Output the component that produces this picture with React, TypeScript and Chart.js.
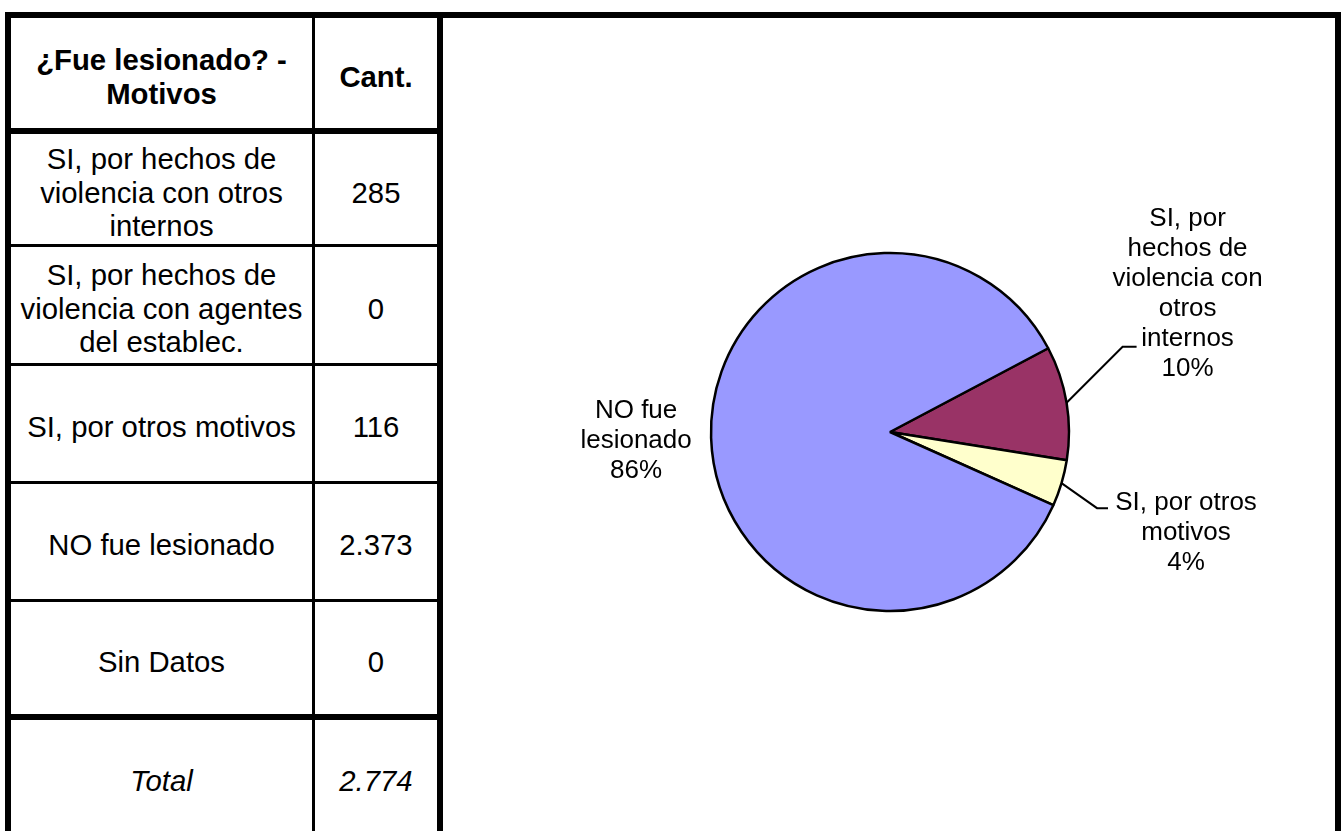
import React, { useEffect, useRef } from "react";
import { Chart, registerables } from "chart.js";

Chart.register(...registerables);

// ---------- data ----------
const categories = [
  "SI, por hechos de violencia con otros internos",
  "SI, por hechos de violencia con agentes del establec.",
  "SI, por otros motivos",
  "NO fue lesionado",
  "Sin Datos",
];
const counts = [285, 0, 116, 2373, 0];
const tableLines = [
  ["SI, por hechos de", "violencia con otros", "internos"],
  ["SI, por hechos de", "violencia con agentes", "del establec."],
  ["SI, por otros motivos"],
  ["NO fue lesionado"],
  ["Sin Datos"],
];
const headerLines = ["¿Fue lesionado? -", "Motivos"];
const countHeader = "Cant.";
const totalLabel = "Total";
const pieLabelLines = [
  ["SI, por", "hechos de", "violencia con", "otros", "internos"],
  [],
  ["SI, por otros", "motivos"],
  ["NO fue", "lesionado"],
  [],
];
const sliceColors = ["#993366", "#CCFFFF", "#FFFFCC", "#9999FF", "#660066"];

// ---------- styles / layout ----------
const FONT = "'Liberation Sans', Arial, Helvetica, sans-serif";
const labelPlacement: Record<number, { dx: number; dy: number; leader?: number[][] }> = {
  0: { dx: 121, dy: -109, leader: [[56, -56], [70, -56]] },
  2: { dx: 124.5, dy: 50, leader: [[35.5, 25], [46.5, 25]] },
  3: { dx: -75, dy: 3 },
};

const total = counts.reduce((a, b) => a + b, 0);
const fmt = (n: number) => n.toString().replace(/\B(?=(\d{3})+(?!\d))/g, ".");

const pieLabelsPlugin = {
  id: "pieLabels",
  afterDatasetsDraw(chart: any) {
    const ctx = chart.ctx;
    const meta = chart.getDatasetMeta(0);
    const data = chart.data.datasets[0].data as number[];
    const sum = data.reduce((a, b) => a + b, 0);
    ctx.save();
    ctx.fillStyle = "#000";
    ctx.strokeStyle = "#000";
    ctx.font = `26px ${FONT}`;
    ctx.textAlign = "center";
    ctx.textBaseline = "middle";
    meta.data.forEach((arc: any, i: number) => {
      const place = labelPlacement[i];
      if (!place || data[i] === 0) return;
      const p = arc.getProps(["x", "y", "startAngle", "endAngle", "outerRadius"], true);
      const mid = (p.startAngle + p.endAngle) / 2;
      const ex = p.x + Math.cos(mid) * p.outerRadius;
      const ey = p.y + Math.sin(mid) * p.outerRadius;
      if (place.leader) {
        ctx.lineWidth = 2;
        ctx.beginPath();
        ctx.moveTo(ex, ey);
        place.leader.forEach(([lx, ly]) => ctx.lineTo(ex + lx, ey + ly));
        ctx.stroke();
      }
      const lines = [...pieLabelLines[i], `${Math.round((data[i] / sum) * 100)}%`];
      const lh = 30;
      const cx = ex + place.dx;
      const cy = ey + place.dy;
      lines.forEach((t, k) => {
        ctx.fillText(t, cx, cy + (k - (lines.length - 1) / 2) * lh);
      });
    });
    ctx.restore();
  },
};

function PieChart() {
  const ref = useRef<HTMLCanvasElement | null>(null);
  useEffect(() => {
    if (!ref.current) return;
    const chart = new Chart(ref.current, {
      type: "pie",
      data: {
        labels: categories,
        datasets: [
          {
            data: counts,
            backgroundColor: sliceColors,
            borderColor: "#000",
            borderWidth: 2.5,
          },
        ],
      },
      options: {
        animation: false,
        responsive: true,
        maintainAspectRatio: false,
        rotation: 62.1,
        radius: 179,
        layout: { padding: { left: 2, top: 15, right: 0, bottom: 0 } },
        plugins: {
          legend: { display: false },
          tooltip: { enabled: false },
          title: { display: false },
        },
      } as any,
      plugins: [pieLabelsPlugin],
    });
    return () => chart.destroy();
  }, []);
  return <canvas ref={ref} />;
}

const line = (left: number, top: number, width: number, height: number, key: string) => (
  <div key={key} style={{ position: "absolute", left, top, width, height, background: "#000" }} />
);

const cell = (
  left: number,
  top: number,
  width: number,
  height: number,
  lines: string[],
  extra: React.CSSProperties,
  key: string
) => (
  <div
    key={key}
    style={{
      position: "absolute",
      left,
      top,
      width,
      height,
      boxSizing: "border-box",
      paddingTop: 7,
      display: "flex",
      flexDirection: "column",
      alignItems: "center",
      justifyContent: "center",
      textAlign: "center",
      fontFamily: FONT,
      fontSize: 29.3,
      lineHeight: 1.15,
      color: "#000",
      whiteSpace: "nowrap",
      ...extra,
    }}
  >
    {lines.map((t, i) => (
      <div key={i}>{t}</div>
    ))}
  </div>
);

export default function App() {
  // row separators: [top, thickness]
  const seps = [
    [128, 6],
    [244, 3],
    [363, 3],
    [481, 3],
    [599, 3],
    [714, 6],
  ];
  const col1L = 11,
    col1R = 312,
    col2L = 315,
    col2R = 437;
  const headerTop = 18;
  const rowsTop = [headerTop, ...seps.map(([t, h]) => t + h)];
  const rowsBottom = [...seps.map(([t]) => t), 835];

  const els: any[] = [];
  // header
  els.push(cell(col1L, rowsTop[0], col1R - col1L, rowsBottom[0] - rowsTop[0], headerLines, { fontWeight: "bold" }, "h1"));
  els.push(cell(col2L, rowsTop[0], col2R - col2L, rowsBottom[0] - rowsTop[0], [countHeader], { fontWeight: "bold" }, "h2"));
  tableLines.forEach((ls, i) => {
    const t = rowsTop[i + 1];
    const b = rowsBottom[i + 1];
    els.push(cell(col1L, t, col1R - col1L, b - t, ls, {}, "c1" + i));
    els.push(cell(col2L, t, col2R - col2L, b - t, [fmt(counts[i])], {}, "c2" + i));
  });
  const tt = rowsTop[6];
  const tb = rowsBottom[6];
  els.push(cell(col1L, tt, col1R - col1L, tb - tt, [totalLabel], { fontStyle: "italic" }, "t1"));
  els.push(cell(col2L, tt, col2R - col2L, tb - tt, [fmt(total)], { fontStyle: "italic" }, "t2"));

  // borders
  els.push(line(5, 12, 1336, 6, "top"));
  els.push(line(5, 12, 6, 900, "left"));
  els.push(line(312, 12, 3, 900, "colsep"));
  els.push(line(437, 12, 6, 900, "tright"));
  els.push(line(1335, 12, 6, 900, "cright"));
  seps.forEach(([t, h], i) => els.push(line(5, t, 438, h, "sep" + i)));

  return (
    <div
      style={{
        position: "absolute",
        left: 0,
        top: 0,
        width: 1344,
        height: 831,
        overflow: "hidden",
        background: "#fff",
      }}
    >
      {els}
      <div style={{ position: "absolute", left: 443, top: 18, width: 892, height: 813 }}>
        <PieChart />
      </div>
    </div>
  );
}
